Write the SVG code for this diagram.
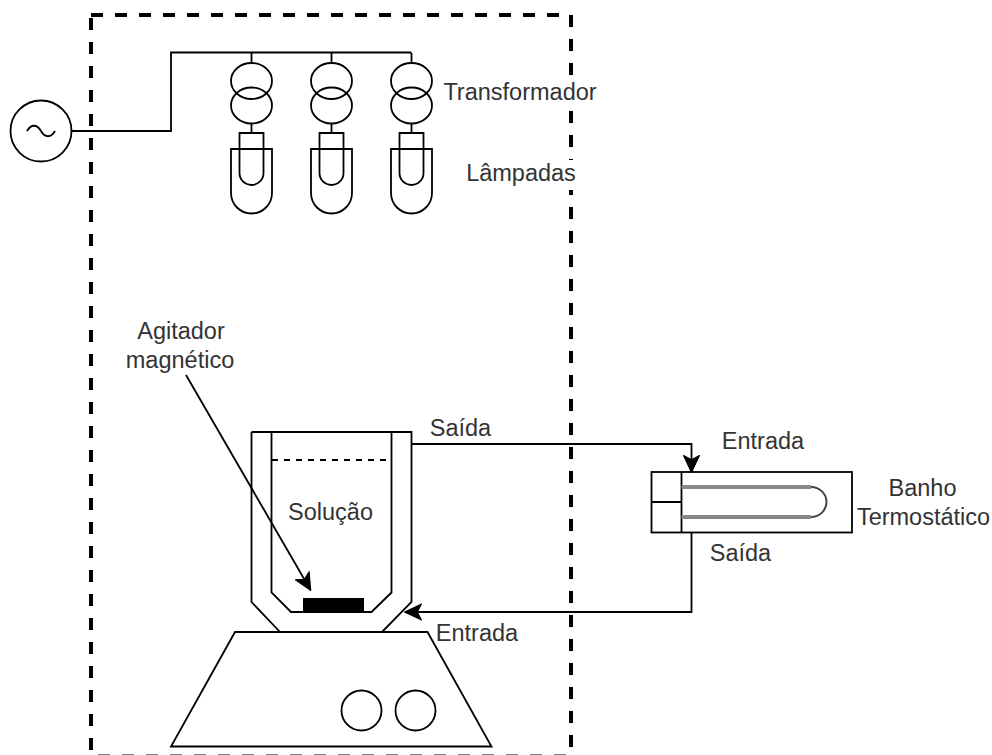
<svg xmlns="http://www.w3.org/2000/svg" width="992" height="755" viewBox="0 0 992 755">
<style>
.s{fill:none;stroke:#000;stroke-width:1.800}
.f{fill:#fff;stroke:#000;stroke-width:1.800}
.w{fill:#fff;stroke:none}
.d{fill:none;stroke:#000;stroke-width:4;stroke-dasharray:12 12}
text{font-family:"Liberation Sans",Arial,sans-serif;font-size:23.500px;fill:#333;text-anchor:middle}
</style>
<defs>
<marker id="arr" markerUnits="userSpaceOnUse" markerWidth="18" markerHeight="18" refX="17" refY="9" orient="auto" viewBox="0 0 18 18"><path d="M17 9L1 1.500L5 9L1 16.500Z" fill="#000" stroke="#000" stroke-width="1.500"/></marker>
<g id="lamp">
<path class="s" d="M0 62V53M0 123V133"/>
<ellipse class="s" cx="0" cy="81" rx="20.500" ry="18"/>
<ellipse class="s" cx="0" cy="105.500" rx="20.500" ry="18"/>
<path class="s" d="M-12 133H12V173A12 12 0 0 1-12 173Z"/>
<path class="s" d="M-20.500 149H20.500V193A20.500 20.500 0 0 1-20.500 193Z"/>
</g>
</defs>
<rect width="992" height="755" fill="#fff"/>
<g id="enclosure">
<path class="d" d="M91 15H571V756"/>
<path class="d" d="M91 18V754"/>
<path class="d" d="M98 756.500H570"/>
</g>
<g id="source"><circle class="s" cx="41" cy="131" r="30.500"/><path class="s" d="M27 131C31 124 37 124 41 131S51 138 55 131"/></g>
<g id="lamps">
<use href="#lamp" x="251.500"/>
<use href="#lamp" x="331.500"/>
<use href="#lamp" x="411.500"/>
</g>
<g id="beaker">
<path class="s" d="M251.500 432H411.500V602L382 632M251.500 432V602L280 632"/>
<path class="s" d="M271.500 432V592.500L291 612H371.500L391.500 592.500V432"/>
<path class="s" d="M272 460H391" stroke-dasharray="6 6"/>
<rect x="303" y="598" width="61" height="14" fill="#000"/>
</g>
<g id="stirrer">
<path class="f" d="M235 632H427.500L491.500 746.500H171Z"/>
<circle class="s" cx="361.500" cy="710.500" r="20"/>
<circle class="s" cx="415.500" cy="710.500" r="20"/>
</g>
<g id="bath">
<rect class="s" x="651.500" y="472" width="200.500" height="60.500"/>
<path class="s" d="M681.500 472V532.500M651.500 502H681.500"/>
<path d="M681.500 487H811M811 517H681.500" fill="none" stroke="#888" stroke-width="4"/>
<path d="M811 487A15.500 15 0 0 1 811 517" fill="none" stroke="#444" stroke-width="2"/>
</g>
<g id="connectors">
<path class="s" d="M71.500 131H171V52.500H411.500"/>
<path class="s" d="M186 375L310.500 590" marker-end="url(#arr)"/>
<path class="s" d="M411.500 444H691.500V472" marker-end="url(#arr)"/>
<path class="s" d="M691.500 532.500V612H405" marker-end="url(#arr)"/>
</g>
<g id="labels">
<g id="label-transformador"><rect class="w" x="442" y="78" width="157" height="30"/><text x="520" y="100">Transformador</text></g>
<g id="label-lampadas"><rect class="w" x="465" y="160" width="113" height="30"/><text x="521" y="180.500">Lâmpadas</text></g>
<g id="label-agitador"><text x="181" y="339">Agitador</text><text x="180" y="368">magnético</text></g>
<g id="label-solucao"><text x="330.500" y="520">Solução</text></g>
<g id="label-saida-1"><text x="460.500" y="436">Saída</text></g>
<g id="label-entrada-1"><text x="763" y="448.500">Entrada</text></g>
<g id="label-banho"><text x="922.500" y="496">Banho</text><text x="923.500" y="525">Termostático</text></g>
<g id="label-saida-2"><text x="740.500" y="560.500">Saída</text></g>
<g id="label-entrada-2"><text x="477" y="640.500">Entrada</text></g>
</g>
</svg>
